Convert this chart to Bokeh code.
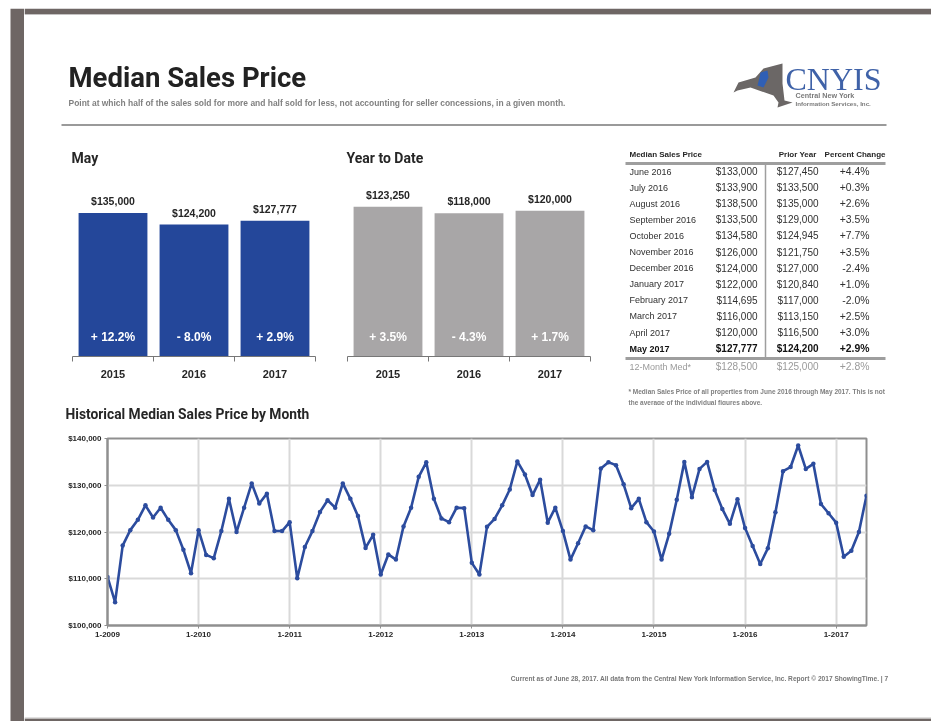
from bokeh.plotting import figure
from bokeh.layouts import row, column
from bokeh.models import ColumnDataSource, FixedTicker, NumeralTickFormatter, Range1d
from bokeh.core.properties import value
from bokeh.embed import file_html
from bokeh.resources import INLINE

BAND = "#6e6664"
BLUE = "#24479a"
GRAY = "#a8a6a7"
DARK = "#262626"
HEAD = "Roboto"
SANS = "Liberation Sans"

bar_years = ["2015", "2016", "2017"]
may_values = [135000, 124200, 127777]
may_labels = ["$135,000", "$124,200", "$127,777"]
may_changes = ["+ 12.2%", "- 8.0%", "+ 2.9%"]
ytd_values = [123250, 118000, 120000]
ytd_labels = ["$123,250", "$118,000", "$120,000"]
ytd_changes = ["+ 3.5%", "- 4.3%", "+ 1.7%"]

table_months = ["June 2016", "July 2016", "August 2016", "September 2016", "October 2016",
                "November 2016", "December 2016", "January 2017", "February 2017",
                "March 2017", "April 2017", "May 2017"]
table_current = ["$133,000", "$133,900", "$138,500", "$133,500", "$134,580", "$126,000",
                 "$124,000", "$122,000", "$114,695", "$116,000", "$120,000", "$127,777"]
table_prior = ["$127,450", "$133,500", "$135,000", "$129,000", "$124,945", "$121,750",
               "$127,000", "$120,840", "$117,000", "$113,150", "$116,500", "$124,200"]
table_change = ["+4.4%", "+0.3%", "+2.6%", "+3.5%", "+7.7%", "+3.5%",
                "-2.4%", "+1.0%", "-2.0%", "+2.5%", "+3.0%", "+2.9%"]
table_total = ["12-Month Med*", "$128,500", "$125,000", "+2.8%"]

hist_k = [
    110.4, 105.0, 117.1, 120.4, 122.6, 125.7, 123.1, 125.2, 122.6, 120.4, 116.2, 111.2,
    120.4, 115.1, 114.4, 120.2, 127.1, 120.0, 125.2, 130.4, 126.1, 128.2, 120.2, 120.2,
    122.1, 110.1, 116.8, 120.2, 124.3, 126.8, 125.2, 130.4, 127.1, 123.4, 116.6, 119.4,
    110.9, 115.2, 114.1, 121.2, 125.2, 131.8, 134.9, 127.1, 122.9, 122.1, 125.2, 125.1,
    113.4, 110.9, 121.1, 122.8, 125.7, 129.1, 135.1, 132.3, 127.9, 131.2, 122.0, 125.2,
    120.2, 114.1, 117.6, 121.2, 120.4, 133.6, 134.9, 134.3, 130.2, 125.1, 127.1, 122.1,
    120.1, 114.1, 119.6, 126.9, 135.0, 127.45, 133.5, 135.0, 129.0, 124.945, 121.75, 127.0,
    120.84, 117.0, 113.15, 116.5, 124.2, 133.0, 133.9, 138.5, 133.5, 134.58, 126.0, 124.0,
    122.0, 114.695, 116.0, 120.0, 127.777,
]
hist_tick_labels = ["1-2009", "1-2010", "1-2011", "1-2012", "1-2013", "1-2014", "1-2015", "1-2016", "1-2017"]


def page_fig(x0, x1, y0, y1):
    """A figure whose scales are page pixels: for text and rules that have no data scale."""
    p = figure(width=x1 - x0, height=y1 - y0, x_range=Range1d(x0, x1), y_range=Range1d(y1, y0),
               output_backend="svg", toolbar_location=None, min_border=0,
               x_axis_type=None, y_axis_type=None, outline_line_color=None,
               border_fill_color="white", background_fill_color="white", frame_align=False)
    p.grid.visible = False
    return p


def txt(p, x, y, texts, size, color=DARK, font=SANS, style="normal", align="left"):
    src = ColumnDataSource(dict(x=x, y=y, t=texts))
    p.text("x", "y", text="t", source=src, text_font=value(font), text_font_size=f"{size}px",
           text_font_style=style, text_color=color, text_align=align, text_baseline="middle")


# left strip
strip = page_fig(8, 24, 8, 721)
strip.quad(left=[10], right=[24], top=[8], bottom=[721], fill_color=BAND, line_color=None)

# header
head = page_fig(24, 931, 8, 145)
head.quad(left=[24], right=[931], top=[8], bottom=[13.5], fill_color=BAND, line_color=None)
head.quad(left=[24], right=[931], top=[13.5], bottom=[14.5], fill_color="#c4c2c2", line_color=None)
txt(head, [68], [77], ["Median Sales Price"], 27.5, "#222222", HEAD, "bold")
txt(head, [68], [102], ["Point at which half of the sales sold for more and half sold for less, not accounting for seller concessions, in a given month."],
    8.45, "#808080", SANS, "bold")
head.line([61, 886], [124.5, 124.5], line_color="#9a9a9a", line_width=2)
# logo
head.patch([733, 738, 755, 763, 782, 782, 784, 792, 777, 778, 773, 750, 737],
           [92, 82, 77, 68, 63, 83, 100, 102, 107, 102, 95, 87, 90], fill_color="#6b6766", line_color=None)
head.patch([760, 767, 768, 763, 757, 759], [72, 70, 77, 87, 85, 77], fill_color="#2f5fb5", line_color=None)
txt(head, [785], [78], ["CNYIS"], 32, "#3f62a8", "Liberation Serif")
txt(head, [795], [95], ["Central New York"], 7.2, "#7a7a7a", SANS, "bold")
txt(head, [795], [103], ["Information Services, Inc."], 6.2, "#7a7a7a", SANS, "bold")

# section titles above the bar charts
bar_titles = page_fig(24, 610, 145, 170)
txt(bar_titles, [71, 346], [157, 157], ["May", "Year to Date"], 14, DARK, HEAD, "bold")


def bar_fig(values, labels, changes, color, ymax, width, left, right):
    p = figure(width=width, height=235, x_range=(0, 3), y_range=(0, ymax),
               output_backend="svg", toolbar_location=None, outline_line_color=None,
               min_border_top=16, min_border_bottom=49, min_border_left=left, min_border_right=right,
               border_fill_color="white", background_fill_color="white", y_axis_type=None,
               frame_align=False)
    p.grid.visible = False
    xs = [0.5, 1.5, 2.5]
    p.vbar(x=xs, top=values, width=0.85, bottom=0, fill_color=color, line_color=None)
    p.text(xs, values, text=labels, y_offset=-12, text_align="center", text_baseline="middle",
           text_font=value(SANS), text_font_style="bold", text_font_size="10.5px", text_color=DARK)
    p.text(xs, [0, 0, 0], text=changes, y_offset=-20, text_align="center", text_baseline="middle",
           text_font=value(SANS), text_font_style="bold", text_font_size="12px", text_color="white")
    ax = p.xaxis[0]
    ax.ticker = FixedTicker(ticks=xs, minor_ticks=[0, 1, 2, 3])
    ax.major_label_overrides = dict(zip(xs, bar_years))
    ax.major_tick_line_color = None
    ax.minor_tick_line_color = "#777777"
    ax.minor_tick_out = 5
    ax.minor_tick_in = 0
    ax.axis_line_color = "#777777"
    ax.axis_line_width = 1.2
    ax.major_label_standoff = 7
    ax.major_label_text_font = SANS
    ax.major_label_text_font_style = "bold"
    ax.major_label_text_font_size = "11px"
    ax.major_label_text_color = DARK
    return p


bar_may = bar_fig(may_values, may_labels, may_changes, BLUE, 160000, 311, 48, 20)
bar_ytd = bar_fig(ytd_values, ytd_labels, ytd_changes, GRAY, 140000, 275, 12, 20)

# table
tab = page_fig(610, 931, 145, 405)
row_y = [171 + 16.1 * i for i in range(12)]
txt(tab, [629], [154], ["Median Sales Price"], 8, DARK, SANS, "bold")
txt(tab, [816, 885], [154, 154], ["Prior Year", "Percent Change"], 8, DARK, SANS, "bold", "right")
tab.line([625, 885], [163, 163], line_color="#9e9e9e", line_width=3)
tab.line([625, 885], [358, 358], line_color="#9e9e9e", line_width=3)
tab.line([765, 765], [163, 358], line_color="#9e9e9e", line_width=1.5)
for col, x, align, size in [(table_months, 629, "left", 9), (table_current, 757, "right", 10),
                            (table_prior, 818, "right", 10), (table_change, 869, "right", 10.4)]:
    txt(tab, [x] * 11, row_y[:11], col[:11], size, "#303030", SANS, "normal", align)
    txt(tab, [x], [row_y[11]], [col[11]], size, "#111111", SANS, "bold", align)
for v, x, align, size in zip(table_total, [629, 757, 818, 869], ["left", "right", "right", "right"], [9, 10, 10, 10.4]):
    txt(tab, [x], [366], [v], size, "#9a9a9a", SANS, "normal", align)
txt(tab, [628, 628], [391, 402],
    ["* Median Sales Price of all properties from June 2016 through May 2017. This is not",
     "the average of the individual figures above."], 6.5, "#808080", SANS, "bold")

# history
hist_title = page_fig(24, 931, 405, 425)
txt(hist_title, [65], [413], ["Historical Median Sales Price by Month"], 13.8, DARK, HEAD, "bold")

hist_values = [v * 1000 for v in hist_k]
months = list(range(len(hist_values)))
hist = figure(width=907, height=235, x_range=(0, 100), y_range=(100000, 140000),
              output_backend="svg", toolbar_location=None,
              min_border_top=13, min_border_bottom=35, min_border_left=83, min_border_right=65,
              border_fill_color="white", background_fill_color="white",
              outline_line_color="#8f8f8f", outline_line_width=2, frame_align=False)
hist.line(months, hist_values, line_color="#2c4c9e", line_width=2.6)
hist.scatter(months, hist_values, size=4.5, fill_color="#2c4c9e", line_color=None)
hist.xaxis.ticker = FixedTicker(ticks=[m for m in months if m % 12 == 0], minor_ticks=[])
hist.xaxis.major_label_overrides = {i * 12: s for i, s in enumerate(hist_tick_labels)}
hist.yaxis.ticker = FixedTicker(ticks=[100000, 110000, 120000, 130000, 140000], minor_ticks=[])
hist.yaxis.formatter = NumeralTickFormatter(format="$0,0")
hist.grid.grid_line_color = "#d9d9d9"
hist.grid.grid_line_width = 2
for ax in [hist.xaxis[0], hist.yaxis[0]]:
    ax.axis_line_color = "#8f8f8f"
    ax.axis_line_width = 2
    ax.major_tick_line_color = "#8f8f8f"
    ax.major_tick_out = 3
    ax.major_tick_in = 0
    ax.major_label_text_font = SANS
    ax.major_label_text_font_style = "bold"
    ax.major_label_text_font_size = "8px"
    ax.major_label_text_color = DARK
    ax.major_label_standoff = 3

# footer
foot = page_fig(24, 931, 660, 721)
foot.quad(left=[24], right=[931], top=[718], bottom=[721], fill_color=BAND, line_color=None)
foot.quad(left=[24], right=[931], top=[717], bottom=[718], fill_color="#c4c2c2", line_color=None)
txt(foot, [888], [678], ["Current as of June 28, 2017. All data from the Central New York Information Service, Inc. Report \u00a9 2017 ShowingTime. | 7"],
    6.6, "#777777", SANS, "bold", "right")

bars_block = column(bar_titles, row(bar_may, bar_ytd, spacing=0), spacing=0)
layout = row(strip, column(head, row(bars_block, tab, spacing=0), hist_title, hist, foot, spacing=0),
             spacing=0, margin=(8, 0, 0, 8), styles={"filter": "blur(0.6px)"})
open("out.html", "w").write(file_html(layout, INLINE))
